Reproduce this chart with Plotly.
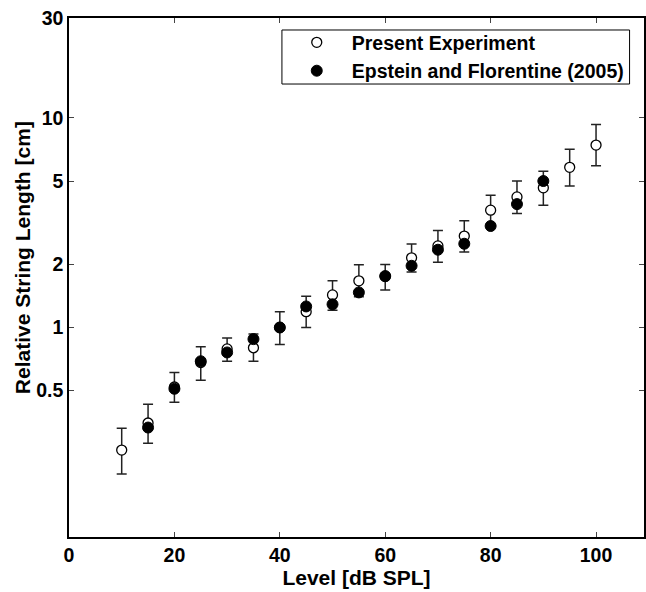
import plotly.graph_objects as go

# Present Experiment (open circles) with error bars
present_level = [10, 15, 20, 25, 30, 35, 40, 45, 50, 55, 60, 65, 70, 75, 80, 85, 90, 95, 100]
present_len = [0.26, 0.35, 0.52, 0.68, 0.79, 0.80, 1.00, 1.19, 1.43, 1.67, 1.75, 2.15, 2.45, 2.73, 3.63, 4.20, 4.64, 5.81, 7.42]
present_hi = [0.33, 0.43, 0.61, 0.81, 0.89, 0.93, 1.19, 1.41, 1.67, 1.99, 2.00, 2.50, 2.90, 3.23, 4.28, 5.00, 5.57, 7.10, 9.31]
present_lo = [0.20, 0.28, 0.44, 0.56, 0.69, 0.69, 0.83, 1.00, 1.21, 1.40, 1.51, 1.84, 2.05, 2.29, 3.08, 3.50, 3.83, 4.73, 5.91]

# Epstein and Florentine (2005) (filled circles)
ef_level = [15, 20, 25, 30, 35, 40, 45, 50, 55, 60, 65, 70, 75, 80, 85, 90]
ef_len = [0.333, 0.51, 0.69, 0.76, 0.88, 1.0, 1.26, 1.29, 1.47, 1.76, 1.97, 2.35, 2.51, 3.05, 3.88, 5.0]

y_tickvals = [0.5, 1, 2, 5, 10, 30]
y_ticktext = ["0.5", "1", "2", "5", "10", "30"]
x_tickvals = [0, 20, 40, 60, 80, 100]

err_plus = [h - v for h, v in zip(present_hi, present_len)]
err_minus = [v - l for v, l in zip(present_len, present_lo)]

FONT = "Liberation Sans, Arial, Helvetica, sans-serif"

fig = go.Figure()
fig.add_trace(go.Scatter(
    x=present_level, y=present_len, mode="markers",
    name="Present Experiment",
    marker=dict(symbol="circle", size=10, color="white", line=dict(color="black", width=1.3)),
    error_y=dict(type="data", symmetric=False, array=err_plus, arrayminus=err_minus,
                 color="#222222", thickness=1.5, width=5),
))
fig.add_trace(go.Scatter(
    x=ef_level, y=ef_len, mode="markers",
    name="Epstein and Florentine (2005)",
    marker=dict(symbol="circle", size=11, color="black", line=dict(color="black", width=1)),
))

fig.update_layout(
    width=646, height=592,
    margin=dict(l=69, r=0, t=18, b=55),
    paper_bgcolor="white", plot_bgcolor="white",
    font=dict(family=FONT, size=19, color="black", weight="bold"),
    showlegend=True,
    legend=dict(
        x=0.37, y=0.990, xanchor="left", yanchor="top",
        borderwidth=0, bgcolor="rgba(0,0,0,0)",
        font=dict(family=FONT, size=19.5, color="black", weight="bold"),
        tracegroupgap=0, itemsizing="trace", itemwidth=60,
    ),
    shapes=[dict(type="rect", xref="paper", yref="paper",
                 x0=0.3703, x1=0.9749, y0=0.8728, y1=0.9769,
                 line=dict(color="black", width=1), fillcolor="white", layer="below")],
    annotations=[dict(text="Relative String Length [cm]", textangle=-90,
                      xref="paper", yref="paper", x=-0.0797, y=0.5376,
                      xanchor="center", yanchor="middle", showarrow=False,
                      font=dict(family=FONT, size=21, color="black", weight="bold"))],
)
fig.update_xaxes(
    range=[0, 109.1], tickvals=x_tickvals, ticks="inside", ticklen=5, tickwidth=1,
    showline=True, linecolor="black", linewidth=1.5, mirror="ticks",
    showgrid=False, zeroline=False,
    tickfont=dict(family=FONT, size=19.5, color="black", weight="bold"),
    title=dict(text="Level [dB SPL]", font=dict(family=FONT, size=21, weight="bold"), standoff=2),
)
fig.update_yaxes(
    type="log", range=[-1, 1.4771], tickvals=y_tickvals, ticktext=y_ticktext,
    ticks="inside", ticklen=5, tickwidth=1,
    showline=True, linecolor="black", linewidth=1.5, mirror="ticks",
    showgrid=False, zeroline=False,
    tickfont=dict(family=FONT, size=19.5, color="black", weight="bold"),
)

fig.write_html("out.html", config={"displayModeBar": False},
               post_script="document.body.style.margin='0';")
